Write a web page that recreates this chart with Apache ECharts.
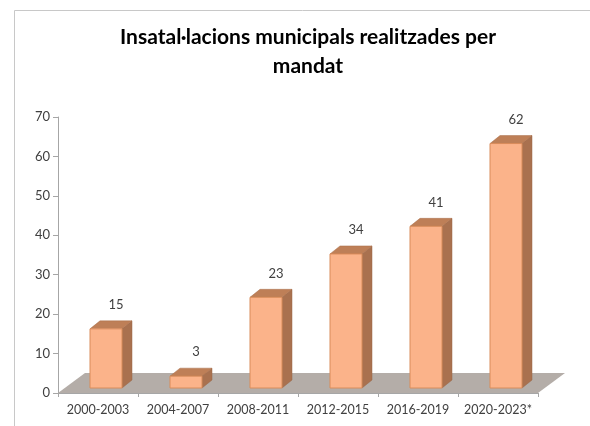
<!DOCTYPE html>
<html>
<head>
<meta charset="utf-8">
<script src="https://cdn.jsdelivr.net/npm/echarts@6/dist/echarts.min.js"></script>
<style>
html,body{margin:0;padding:0;background:#fff;}
#chart{width:590px;height:426px;}
</style>
</head>
<body>
<div id="chart"></div>
<script>
var titleText = "Insatal·lacions municipals realitzades per\nmandat";
var categories = ["2000-2003", "2004-2007", "2008-2011", "2012-2015", "2016-2019", "2020-2023*"];
var values = [15, 3, 23, 34, 41, 62];
var yMin = 0, yMax = 70, yStep = 10;

var FONT = "Lato";
var chart = echarts.init(document.getElementById('chart'), null, {renderer: 'canvas'});

var FRONT = '#FBB38A', FRONT_EDGE = '#D98C5A', SIDE = '#A9714F', TOP = '#BE7F57', FLOOR = '#B4ADA8';
var BAR_SHIFT_X = 8, BAR_SHIFT_Y = -5, BAR_DX = 10, BAR_DY = -8;
var FLOOR_DX = 27, FLOOR_DY = -20;

function renderFloor(params, api) {
  var cs = params.coordSys;
  var y0 = api.coord([0, yMin])[1];
  var x0 = cs.x, x1 = cs.x + cs.width;
  return {
    type: 'polygon',
    shape: {points: [[x0, y0], [x1, y0], [x1 + FLOOR_DX, y0 + FLOOR_DY], [x0 + FLOOR_DX, y0 + FLOOR_DY]]},
    style: {fill: FLOOR},
    z2: 0
  };
}

function renderBar(params, api) {
  var idx = api.value(0), v = api.value(1);
  var top = api.coord([idx, v]);
  var base = api.coord([idx, yMin]);
  var bw = api.size([1, 0])[0] * 0.4;
  var xl = top[0] - bw / 2 + BAR_SHIFT_X, xr = xl + bw;
  var yt = top[1] + BAR_SHIFT_Y, yb = base[1] + BAR_SHIFT_Y;
  return {
    type: 'group',
    children: [
      {type: 'polygon', shape: {points: [[xr, yt], [xr, yb], [xr + BAR_DX, yb + BAR_DY], [xr + BAR_DX, yt + BAR_DY]]},
       style: {fill: SIDE, stroke: '#9A6445', lineWidth: 0.5}},
      {type: 'polygon', shape: {points: [[xl, yt], [xr, yt], [xr + BAR_DX, yt + BAR_DY], [xl + BAR_DX, yt + BAR_DY]]},
       style: {fill: TOP, stroke: '#A96E4A', lineWidth: 0.5}},
      {type: 'rect', shape: {x: xl, y: yt, width: bw, height: yb - yt},
       style: {fill: FRONT, stroke: FRONT_EDGE, lineWidth: 1}},
      {type: 'text', x: (xl + xr) / 2 + 10, y: yt - 24,
       style: {text: String(v), fill: '#404040', font: '13px ' + FONT, align: 'center', verticalAlign: 'middle'}}
    ]
  };
}

var barData = values.map(function (v, i) { return [i, v]; });

chart.setOption({
  animation: false,
  backgroundColor: '#fff',
  title: {
    text: titleText,
    left: 303, top: 18, textAlign: 'center',
    textStyle: {fontFamily: FONT, fontWeight: 'bold', fontSize: 21, color: '#000', lineHeight: 29}
  },
  graphic: [{
    type: 'rect', left: 12, top: 8, z: -10,
    shape: {width: 576, height: 430},
    style: {fill: 'none', stroke: '#C8C8C8', lineWidth: 1}
  }],
  grid: {left: 58, right: 52, top: 117, bottom: 33},
  xAxis: {
    type: 'category', data: categories, boundaryGap: true,
    axisLine: {show: true, lineStyle: {color: '#A6A6A6'}},
    axisTick: {show: true, length: 4, lineStyle: {color: '#A6A6A6'}},
    axisLabel: {fontFamily: FONT, fontSize: 12.5, color: '#404040', margin: 10, interval: 0},
    z: 5
  },
  yAxis: {
    type: 'value', min: yMin, max: yMax, interval: yStep,
    axisLine: {show: true, lineStyle: {color: '#A6A6A6'}},
    axisTick: {show: true, length: 5, lineStyle: {color: '#A6A6A6'}},
    splitLine: {show: false},
    axisLabel: {fontFamily: FONT, fontSize: 13, color: '#404040', margin: 8}
  },
  series: [
    {type: 'custom', renderItem: renderFloor, data: [[0, 0]], z: 1, silent: true},
    {type: 'custom', renderItem: renderBar, data: barData, z: 3, encode: {x: 0, y: 1}}
  ]
});
</script>
</body>
</html>
